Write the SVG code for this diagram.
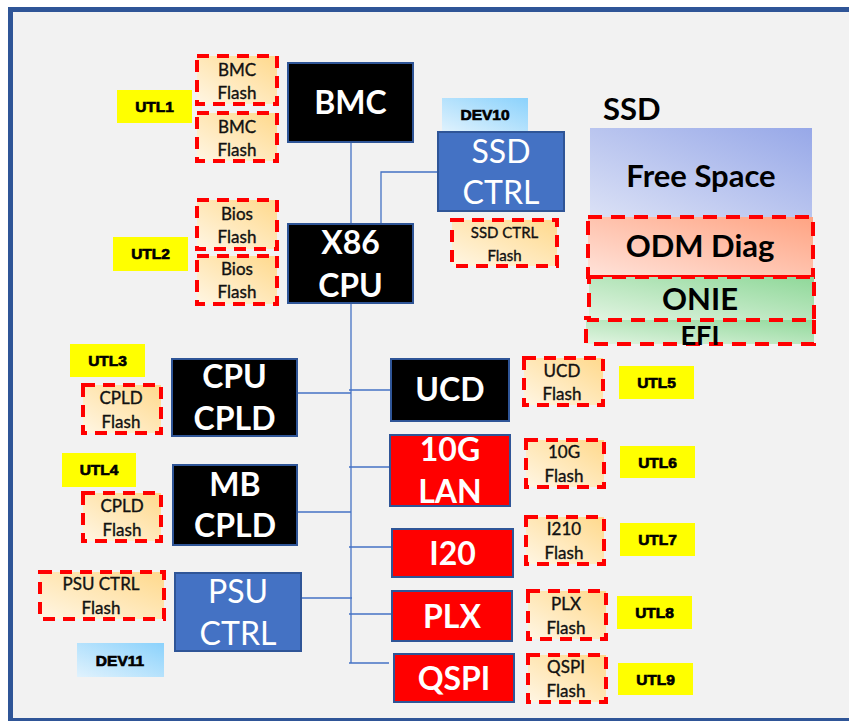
<svg xmlns="http://www.w3.org/2000/svg" width="849" height="721" viewBox="0 0 849 721">
<style>
.big{font-family:Lato,"Liberation Sans",sans-serif;font-weight:bold;font-size:32px;fill:#fff;text-anchor:middle}
.bigr{font-family:Lato,"Liberation Sans",sans-serif;font-weight:normal;font-size:32px;fill:#fff;text-anchor:middle}
.fl{font-family:Lato,"Liberation Sans",sans-serif;font-size:17px;fill:#111;stroke:#111;stroke-width:0.35;text-anchor:middle}
.ut{font-family:"Liberation Sans",Arial,sans-serif;font-weight:900;font-size:15.5px;fill:#000;stroke:#000;stroke-width:0.7;text-anchor:middle}
.ssd{font-family:Lato,"Liberation Sans",sans-serif;font-weight:bold;font-size:31px;fill:#000;text-anchor:middle}
.blk{fill:#000;stroke:#2F5597;stroke-width:2}
.red{fill:#FF0000;stroke:#2F5597;stroke-width:2}
.blu{fill:#4472C4;stroke:#2F5597;stroke-width:2}
.flash{fill:url(#gFlash);stroke:#FF0000;stroke-width:4;stroke-dasharray:12 8}
.utl{fill:#FFFF00}
.dev{fill:url(#gDev)}
.dash{stroke:#FF0000;stroke-width:4;stroke-dasharray:14 9}
.wire{stroke:#4472C4;stroke-width:1.3;fill:none}
</style>
<defs>
<linearGradient id="gFlash" x1="0" y1="1" x2="1" y2="0"><stop offset="0" stop-color="#FFF6E4"/><stop offset="1" stop-color="#FFD98C"/></linearGradient>
<linearGradient id="gDev" x1="0" y1="1" x2="1" y2="0"><stop offset="0" stop-color="#E0F2FD"/><stop offset="1" stop-color="#8BD2FC"/></linearGradient>
<linearGradient id="gFree" x1="0" y1="1" x2="1" y2="0"><stop offset="0" stop-color="#DCE2F6"/><stop offset="1" stop-color="#97A8E8"/></linearGradient>
<linearGradient id="gOdm" x1="0" y1="1" x2="1" y2="0"><stop offset="0" stop-color="#FFE3DA"/><stop offset="1" stop-color="#FFA382"/></linearGradient>
<linearGradient id="gOnie" x1="0" y1="1" x2="1" y2="0"><stop offset="0" stop-color="#E2F4E2"/><stop offset="1" stop-color="#8FD899"/></linearGradient>
</defs>
<rect x="0" y="0" width="849" height="721" fill="#fff"/>
<rect x="10.5" y="9.5" width="860" height="711" fill="#F2F2F2" stroke="#2F5597" stroke-width="5"/>

<g id="connectors">
<line class="wire" x1="351" y1="142" x2="351" y2="663"/>
<polyline class="wire" points="438,172 381,172 381,224"/>
<line class="wire" x1="297" y1="393" x2="351" y2="393"/>
<line class="wire" x1="297" y1="512" x2="351" y2="512"/>
<line class="wire" x1="301" y1="598" x2="352" y2="598"/>
<line class="wire" x1="349" y1="390" x2="391" y2="390"/>
<line class="wire" x1="349" y1="467" x2="390" y2="467"/>
<line class="wire" x1="349" y1="547" x2="392" y2="547"/>
<line class="wire" x1="349" y1="614" x2="392" y2="614"/>
<line class="wire" x1="349" y1="663" x2="389" y2="663"/>
</g>

<g id="bmc"><rect class="blk" x="288" y="63" width="125" height="79"/><text class="big" x="350.5" y="114">BMC</text></g>
<g id="x86"><rect class="blk" x="288" y="224" width="125" height="79"/><text class="big" x="350.5" y="254">X86</text><text class="big" x="350.5" y="297">CPU</text></g>
<g id="bmcflash1"><rect class="flash" x="197" y="56" width="80" height="48"/><text class="fl" x="237" y="76">BMC</text><text class="fl" x="237" y="99">Flash</text></g>
<g id="bmcflash2"><rect class="flash" x="197" y="113" width="80" height="48"/><text class="fl" x="237" y="133">BMC</text><text class="fl" x="237" y="156">Flash</text></g>
<g id="utl1"><rect class="utl" x="117" y="90" width="75" height="33"/><text class="ut" x="154.5" y="112">UTL1</text></g>
<g id="biosflash1"><rect class="flash" x="197" y="200" width="80" height="49"/><text class="fl" x="237" y="220">Bios</text><text class="fl" x="237" y="243">Flash</text></g>
<g id="biosflash2"><rect class="flash" x="197" y="256" width="80" height="48"/><text class="fl" x="237" y="275">Bios</text><text class="fl" x="237" y="298">Flash</text></g>
<g id="utl2"><rect class="utl" x="113" y="237" width="75" height="34"/><text class="ut" x="150.5" y="259">UTL2</text></g>

<g id="dev10"><rect class="dev" x="442" y="98" width="86" height="34"/><text class="ut" x="485" y="120">DEV10</text></g>
<g id="ssdctrl"><rect class="blu" x="438" y="132" width="126" height="79"/><text class="bigr" x="501" y="163">SSD</text><text class="bigr" x="501" y="204">CTRL</text></g>
<g id="ssdctrlflash"><rect class="flash" x="452" y="220" width="105" height="46"/><text class="fl" x="504.5" y="238" style="font-size:15px">SSD CTRL</text><text class="fl" x="504.5" y="261" style="font-size:15px">Flash</text></g>

<g id="ssd">
<text class="ssd" x="603" y="120" style="text-anchor:start">SSD</text>
<rect x="590" y="128" width="222" height="92" fill="url(#gFree)"/>
<text class="ssd" x="701" y="187">Free Space</text>
<rect x="586" y="318" width="228" height="26" fill="url(#gOnie)" class="dash"/>
<rect x="588" y="217" width="225" height="60" fill="url(#gOdm)" class="dash"/>
<rect x="589" y="277" width="225" height="43" fill="url(#gOnie)" class="dash"/>
<text class="ssd" x="700" y="257">ODM Diag</text>
<text class="ssd" x="700" y="310">ONIE</text>
<text class="ssd" x="700" y="345" style="font-size:27px">EFI</text>
</g>

<g id="utl3"><rect class="utl" x="70" y="344" width="75" height="33"/><text class="ut" x="107.5" y="366">UTL3</text></g>
<g id="cpldflash1"><rect class="flash" x="83" y="385" width="78" height="48"/><text class="fl" x="121" y="404">CPLD</text><text class="fl" x="121" y="428">Flash</text></g>
<g id="cpucpld"><rect class="blk" x="172" y="359" width="125" height="77"/><text class="big" x="234.5" y="388">CPU</text><text class="big" x="234.5" y="430">CPLD</text></g>
<g id="utl4"><rect class="utl" x="62" y="453" width="74" height="34"/><text class="ut" x="99" y="475">UTL4</text></g>
<g id="cpldflash2"><rect class="flash" x="83" y="493" width="78" height="48"/><text class="fl" x="122" y="512">CPLD</text><text class="fl" x="122" y="536">Flash</text></g>
<g id="mbcpld"><rect class="blk" x="173" y="465" width="124" height="80"/><text class="big" x="235" y="496">MB</text><text class="big" x="235" y="537">CPLD</text></g>
<g id="psuctrlflash"><rect class="flash" x="40" y="572" width="124" height="47"/><text class="fl" x="101" y="590">PSU CTRL</text><text class="fl" x="101" y="614">Flash</text></g>
<g id="psuctrl"><rect class="blu" x="175" y="573" width="126" height="78"/><text class="bigr" x="238" y="603">PSU</text><text class="bigr" x="238" y="645">CTRL</text></g>
<g id="dev11"><rect class="dev" x="77" y="643" width="87" height="34"/><text class="ut" x="120" y="666">DEV11</text></g>

<g id="ucd"><rect class="blk" x="391" y="359" width="118" height="62"/><text class="big" x="450" y="401">UCD</text></g>
<g id="ucdflash"><rect class="flash" x="524" y="358" width="79" height="47"/><text class="fl" x="562" y="377">UCD</text><text class="fl" x="562" y="400">Flash</text></g>
<g id="utl5"><rect class="utl" x="619" y="366" width="75" height="33"/><text class="ut" x="656.5" y="388">UTL5</text></g>
<g id="lan10g"><rect class="red" x="390" y="435" width="120" height="71"/><text class="big" x="450" y="461">10G</text><text class="big" x="450" y="503">LAN</text></g>
<g id="lanflash"><rect class="flash" x="526" y="440" width="78" height="47"/><text class="fl" x="564" y="458">10G</text><text class="fl" x="564" y="482">Flash</text></g>
<g id="utl6"><rect class="utl" x="620" y="446" width="75" height="32"/><text class="ut" x="657.5" y="468">UTL6</text></g>
<g id="i20"><rect class="red" x="392" y="529" width="121" height="48"/><text class="big" x="452.5" y="565">I20</text></g>
<g id="i210flash"><rect class="flash" x="526" y="517" width="78" height="47"/><text class="fl" x="564" y="535">I210</text><text class="fl" x="564" y="559">Flash</text></g>
<g id="utl7"><rect class="utl" x="620" y="523" width="75" height="33"/><text class="ut" x="657.5" y="545">UTL7</text></g>
<g id="plx"><rect class="red" x="392" y="591" width="120" height="50"/><text class="big" x="452" y="628">PLX</text></g>
<g id="plxflash"><rect class="flash" x="528" y="591" width="78" height="48"/><text class="fl" x="566" y="610">PLX</text><text class="fl" x="566" y="634">Flash</text></g>
<g id="utl8"><rect class="utl" x="617" y="596" width="75" height="33"/><text class="ut" x="654.5" y="618">UTL8</text></g>
<g id="qspi"><rect class="red" x="394" y="654" width="120" height="48"/><text class="big" x="454" y="690">QSPI</text></g>
<g id="qspiflash"><rect class="flash" x="528" y="655" width="78" height="47"/><text class="fl" x="566" y="673">QSPI</text><text class="fl" x="566" y="697">Flash</text></g>
<g id="utl9"><rect class="utl" x="618" y="663" width="75" height="32"/><text class="ut" x="655.5" y="685">UTL9</text></g>
</svg>
